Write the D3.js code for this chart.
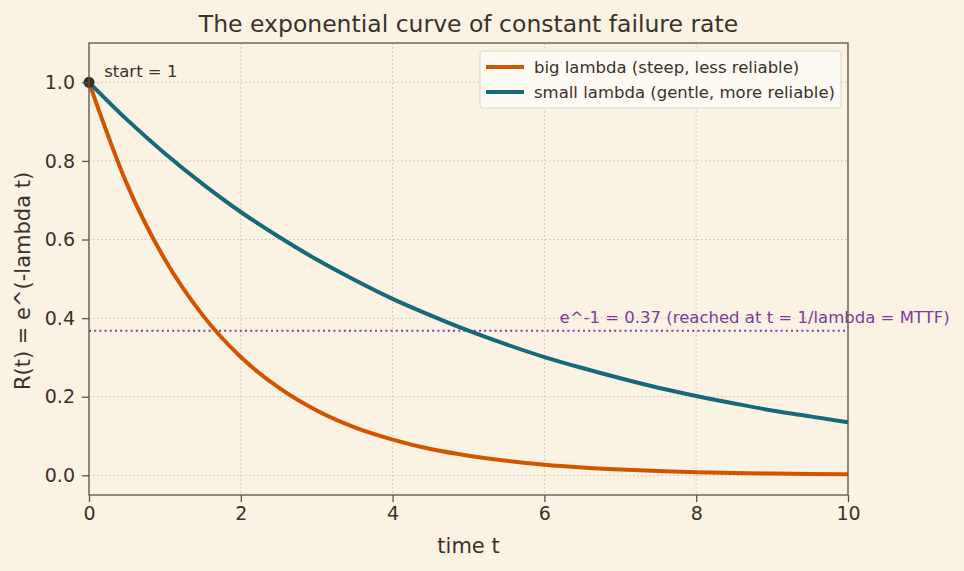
<!DOCTYPE html>
<html>
<head>
<meta charset="utf-8">
<script src="https://cdn.jsdelivr.net/npm/d3@7"></script>
<style>
  body { margin: 0; background: #faf3e4; }
  svg { display: block; font-family: "DejaVu Sans", sans-serif; }
</style>
</head>
<body>
<div id="chart"></div>
<script>
// values, t every 0.5
let times = [0, 0.5, 1, 1.5, 2, 2.5, 3, 3.5, 4, 4.5, 5, 5.5, 6, 6.5, 7, 7.5, 8, 8.5, 9, 9.5, 10];
let bigLambda = [1, 0.741, 0.549, 0.407, 0.301, 0.223, 0.165, 0.122, 0.091, 0.067, 0.050,
	0.037, 0.027, 0.020, 0.015, 0.011, 0.008, 0.006, 0.0045, 0.0033, 0.0025];
let smallLambda = [1, 0.905, 0.819, 0.741, 0.670, 0.607, 0.549, 0.497, 0.449, 0.407, 0.368,
	0.333, 0.301, 0.273, 0.247, 0.223, 0.202, 0.183, 0.165, 0.150, 0.135];
let seriesNames = ["big lambda (steep, less reliable)", "small lambda (gentle, more reliable)"];
let xTicks = [0, 2, 4, 6, 8, 10];
let yTicks = [0, 0.2, 0.4, 0.6, 0.8, 1.0];
let threshold = 0.368;
let thresholdLabel = "e^-1 = 0.37 (reached at t = 1/lambda = MTTF)";
let startLabel = "start = 1";

let width = 964, height = 571;
let margin = {top: 43, right: 116, bottom: 76, left: 89};
let innerW = width - margin.left - margin.right;
let innerH = height - margin.top - margin.bottom;

let colors = ["#d35400", "#17697a"];
let ink = "#3b3129";
let spine = "#5d5246";

let svg = d3.select("#chart").append("svg")
	.attr("width", width)
	.attr("height", height);

svg.append("rect").attr("width", width).attr("height", height).attr("fill", "#faf3e4");

let g = svg.append("g")
	.attr("transform", "translate(" + margin.left + "," + margin.top + ")");

let x = d3.scaleLinear().domain([0, 10]).range([0, innerW]);
let y = d3.scaleLinear().domain([-0.05, 1.1]).range([innerH, 0]);

// grid
g.selectAll(".vgrid").data(xTicks).enter().append("line")
	.attr("x1", d => x(d)).attr("x2", d => x(d))
	.attr("y1", 0).attr("y2", innerH)
	.attr("stroke", "#cbc1b0").attr("stroke-width", 1).attr("stroke-dasharray", "1.5,2.5");
g.selectAll(".hgrid").data(yTicks).enter().append("line")
	.attr("x1", 0).attr("x2", innerW)
	.attr("y1", d => y(d)).attr("y2", d => y(d))
	.attr("stroke", "#cbc1b0").attr("stroke-width", 1).attr("stroke-dasharray", "1.5,2.5");

// threshold
g.append("line")
	.attr("x1", 0).attr("x2", innerW)
	.attr("y1", y(threshold)).attr("y2", y(threshold))
	.attr("stroke", "#7d3c98").attr("stroke-width", 2).attr("stroke-dasharray", "2,3.2");

g.append("text")
	.attr("x", x(6.2)).attr("y", y(0.4) + 5)
	.attr("fill", "#7d3c98").attr("font-size", 16.5)
	.text(thresholdLabel);

// curves
let line = d3.line()
	.x((d, i) => x(times[i]))
	.y(d => y(d))
	.curve(d3.curveMonotoneX);

[bigLambda, smallLambda].forEach((s, k) => {
	g.append("path")
		.datum(s)
		.attr("d", line)
		.attr("fill", "none")
		.attr("stroke", colors[k])
		.attr("stroke-width", 4);
});

// start marker
g.append("circle")
	.attr("cx", x(0)).attr("cy", y(1))
	.attr("r", 5.5).attr("fill", "#3a2b25");
g.append("text")
	.attr("x", x(0.2)).attr("y", y(1.03) + 6)
	.attr("fill", ink).attr("font-size", 16.5)
	.text(startLabel);

// axes
let xaxis = d3.axisBottom(x).tickValues(xTicks).tickFormat(d3.format("d")).tickSizeOuter(0).tickSize(7).tickPadding(5);
let yaxis = d3.axisLeft(y).tickValues(yTicks).tickFormat(d3.format(".1f")).tickSizeOuter(0).tickSize(7).tickPadding(7);

let gx = g.append("g").attr("transform", "translate(0," + innerH + ")").call(xaxis);
let gy = g.append("g").call(yaxis);
[gx, gy].forEach(a => {
	a.select(".domain").remove();
	a.selectAll("line").attr("stroke", spine).attr("stroke-width", 1.3);
	a.selectAll("text").attr("fill", ink).attr("font-size", 19).attr("font-family", "DejaVu Sans");
});

// frame
g.append("rect")
	.attr("width", innerW).attr("height", innerH)
	.attr("fill", "none").attr("stroke", spine).attr("stroke-width", 1.3);

// titles
svg.append("text")
	.attr("x", margin.left + innerW / 2).attr("y", 32)
	.attr("text-anchor", "middle").attr("fill", ink).attr("font-size", 23.5)
	.text("The exponential curve of constant failure rate");

svg.append("text")
	.attr("x", margin.left + innerW / 2).attr("y", 553)
	.attr("text-anchor", "middle").attr("fill", ink).attr("font-size", 21)
	.text("time t");

svg.append("text")
	.attr("transform", "rotate(-90)")
	.attr("x", -281).attr("y", 30)
	.attr("text-anchor", "middle").attr("fill", ink).attr("font-size", 21)
	.text("R(t) = e^(-lambda t)");

// legend
let lg = svg.append("g").attr("transform", "translate(480,51)");
lg.append("rect")
	.attr("width", 361).attr("height", 57).attr("rx", 3)
	.attr("fill", "#fdfaf3").attr("stroke", "#ddd6c8");
seriesNames.forEach((name, k) => {
	let yy = 16 + k * 25;
	lg.append("line")
		.attr("x1", 6).attr("x2", 44).attr("y1", yy).attr("y2", yy)
		.attr("stroke", colors[k]).attr("stroke-width", 4);
	lg.append("text")
		.attr("x", 54).attr("y", yy + 6)
		.attr("fill", ink).attr("font-size", 16.5)
		.text(name);
});
</script>
</body>
</html>
